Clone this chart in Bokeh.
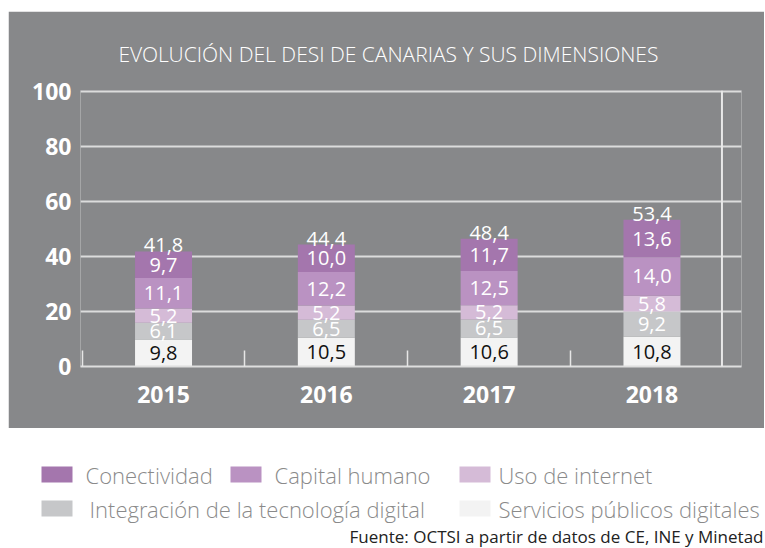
from bokeh.plotting import figure
from bokeh.models import ColumnDataSource, FixedTicker, Range1d, Span, Label
from bokeh.embed import file_html
from bokeh.resources import INLINE
from bokeh.core.properties import value

# ---------------- data ----------------
years = ["2015", "2016", "2017", "2018"]
servicios = [9.8, 10.5, 10.6, 10.8]          # Servicios públicos digitales
integracion = [6.1, 6.5, 6.5, 9.2]           # Integración de la tecnología digital
uso_internet = [5.2, 5.2, 5.2, 5.8]          # Uso de internet
capital_humano = [11.1, 12.2, 12.5, 14.0]    # Capital humano
conectividad = [9.7, 10.0, 11.7, 13.6]       # Conectividad
totales = [41.8, 44.4, 48.4, 53.4]           # DESI total
y_ticks = [0, 20, 40, 60, 80, 100]

series_names = ["Servicios públicos digitales", "Integración de la tecnología digital",
                "Uso de internet", "Capital humano", "Conectividad"]
series_keys = ["servicios", "integracion", "uso_internet", "capital_humano", "conectividad"]
series_vals = [servicios, integracion, uso_internet, capital_humano, conectividad]

# ---------------- styles ----------------
BG = "#87888A"
colors = ["#F3F3F3", "#C6C7C9", "#D5BBD7", "#BA92C2", "#A476AD"]
label_colors = ["#111111", "white", "white", "white", "white"]
FONT = "Open Sans"
LIGHT = "Open Sans Light, Open Sans"

xs = list(range(len(years)))
separators = [-0.5, 0.5, 1.5, 2.5]
right_line = 3.43

src = ColumnDataSource(dict(x=xs, **{k: v for k, v in zip(series_keys, series_vals)}))

W = 756
p = figure(width=W, height=417, x_range=Range1d(-0.51, 3.55), y_range=Range1d(0, 100.5),
           toolbar_location=None, output_backend="svg",
           min_border_left=72, min_border_right=23, min_border_top=79, min_border_bottom=62)
p.margin = (11, 0, 0, 8)
p.background_fill_color = BG
p.border_fill_color = BG
p.outline_line_color = None

p.vbar_stack(series_keys, x="x", width=0.35, color=colors, line_color=None, source=src)

# segment labels
lx, ly, lt, lc = [], [], [], []
for k, vals in enumerate(series_vals):
    for i, v in enumerate(vals):
        bottom = sum(series_vals[j][i] for j in range(k))
        lx.append(xs[i])
        ly.append(bottom + v / 2)
        lt.append(f"{v:.1f}".replace(".", ","))
        lc.append(label_colors[k])
lsrc = ColumnDataSource(dict(x=lx, y=ly, text=lt, color=lc))
p.text(x="x", y="y", text="text", text_color="color", source=lsrc,
       text_align="center", text_baseline="middle",
       text_font=value(FONT), text_font_size="20px")

# totals
tops = [sum(s[i] for s in series_vals) for i in range(len(years))]
tsrc = ColumnDataSource(dict(x=xs, y=tops, text=[f"{t:.1f}".replace(".", ",") for t in totales]))
p.text(x="x", y="y", text="text", source=tsrc, text_color="white",
       text_align="center", text_baseline="alphabetic", y_offset=-6,
       text_font=value(FONT), text_font_size="20px")

# axes
p.xaxis.ticker = FixedTicker(ticks=xs, minor_ticks=separators)
p.xaxis.major_label_overrides = {i: y for i, y in zip(xs, years)}
p.xaxis.major_tick_line_color = None
p.xaxis.major_tick_in = 0
p.xaxis.major_tick_out = 0
p.xaxis.minor_tick_in = 16
p.xaxis.minor_tick_out = 0
p.xaxis.minor_tick_line_color = "#E6E6E6"
p.xaxis.minor_tick_line_width = 1.5
p.xaxis.axis_line_color = "#DEDEDE"
p.xaxis.axis_line_width = 2
p.xaxis.major_label_standoff = 19
p.xaxis.major_label_text_color = "white"
p.xaxis.major_label_text_font = FONT
p.xaxis.major_label_text_font_style = "bold"
p.xaxis.major_label_text_font_size = "23px"

p.yaxis.ticker = FixedTicker(ticks=y_ticks)
p.yaxis.axis_line_color = None
p.yaxis.major_tick_line_color = None
p.yaxis.minor_tick_line_color = None
p.yaxis.major_tick_in = 0
p.yaxis.major_tick_out = 0
p.yaxis.major_label_standoff = 9
p.yaxis.major_label_text_color = "white"
p.yaxis.major_label_text_font = FONT
p.yaxis.major_label_text_font_style = "bold"
p.yaxis.major_label_text_font_size = "23px"

p.xgrid.visible = False
p.ygrid.ticker = FixedTicker(ticks=y_ticks)
p.ygrid.grid_line_color = "#DCDCDC"
p.ygrid.grid_line_width = 2

p.add_layout(Span(location=right_line, dimension="height", line_color="#E8E8E8", line_width=2))

p.title.text = "EVOLUCIÓN DEL DESI DE CANARIAS Y SUS DIMENSIONES"
p.title.text_color = "white"
p.title.text_font = LIGHT
p.title.text_font_style = "normal"
p.title.text_font_size = "21px"
p.title.align = "left"
p.title.offset = 38
p.title.standoff = 45

# ---------------- legend / source panel ----------------
H2 = 119
p2 = figure(width=W, height=H2, x_range=Range1d(0, W), y_range=Range1d(0, H2),
            toolbar_location=None, output_backend="svg", min_border=0,
            x_axis_location=None, y_axis_location=None)
p2.margin = (0, 0, 0, 8)
p2.grid.visible = False
p2.outline_line_color = None
p2.background_fill_color = "white"
p2.border_fill_color = "white"

# legend layout in panel pixels: (series index, swatch left, row centre from bottom, text gap)
legend_layout = [
    (4, 33, 73, 13),
    (3, 222, 73, 13),
    (2, 451, 73, 8),
    (1, 33, 39, 17),
    (0, 451, 39, 8),
]
SW, SH = 31, 16
leg = ColumnDataSource(dict(
    x=[l[1] + SW / 2 for l in legend_layout],
    y=[l[2] for l in legend_layout],
    tx=[l[1] + SW + l[3] for l in legend_layout],
    color=[colors[l[0]] for l in legend_layout],
    name=[series_names[l[0]] for l in legend_layout],
))
p2.rect(x="x", y="y", width=SW, height=SH, fill_color="color", line_color=None, source=leg)
p2.text(x="tx", y="y", text="name", source=leg, text_align="left", text_baseline="middle",
        text_color="#8A8A8A", text_font=value(LIGHT), text_font_size="22px")

p2.add_layout(Label(x=W - 1, y=11, text="Fuente: OCTSI a partir de datos de CE, INE y Minetad",
                    text_align="right", text_baseline="middle", text_color="#222222",
                    text_font=FONT, text_font_size="17px"))

open("out.html", "w").write(file_html([p, p2], INLINE))
